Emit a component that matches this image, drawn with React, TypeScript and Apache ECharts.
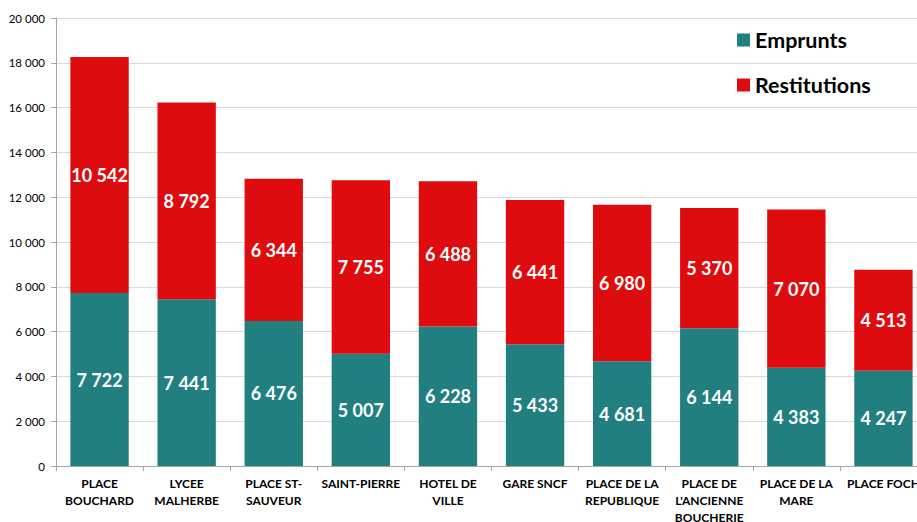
import React, { useEffect, useRef } from "react";
import * as echarts from "echarts";

const categories = [
  "PLACE\nBOUCHARD",
  "LYCEE\nMALHERBE",
  "PLACE ST-\nSAUVEUR",
  "SAINT-PIERRE",
  "HOTEL DE\nVILLE",
  "GARE SNCF",
  "PLACE DE LA\nREPUBLIQUE",
  "PLACE DE\nL'ANCIENNE\nBOUCHERIE",
  "PLACE DE LA\nMARE",
  "PLACE FOCH",
];
const emprunts = [7722, 7441, 6476, 5007, 6228, 5433, 4681, 6144, 4383, 4247];
const restitutions = [10542, 8792, 6344, 7755, 6488, 6441, 6980, 5370, 7070, 4513];

const fmt = (v: number) => String(v).replace(/\B(?=(\d{3})+(?!\d))/g, " ");
const FONT = "Lato, 'Open Sans', sans-serif";

export default function App() {
  const ref = useRef<HTMLDivElement>(null);
  useEffect(() => {
    if (!ref.current) return;
    document.body.style.margin = "0";
    document.body.style.overflow = "hidden";
    const chart = echarts.init(ref.current, undefined, { renderer: "svg" });
    const label = {
      show: true,
      position: "inside" as const,
      color: "#ffffff",
      fontFamily: FONT,
      fontWeight: "bold" as const,
      fontSize: 18,
      formatter: (p: any) => fmt(p.value),
    };
    chart.setOption({
      animation: false,
      backgroundColor: "#ffffff",
      textStyle: { fontFamily: FONT },
      grid: {
        left: 56,
        top: 18,
        height: 448,
        width: 871,
        containLabel: false,
        outerBoundsMode: "none",
      },
      legend: {
        orient: "vertical",
        left: 737,
        top: 29,
        padding: 0,
        itemWidth: 13,
        itemHeight: 13,
        itemGap: 23,
        icon: "rect",
        textStyle: { fontFamily: FONT, fontWeight: "bold", fontSize: 21.5, color: "#000", lineHeight: 22 },
        data: ["Emprunts", "Restitutions"],
      },
      xAxis: {
        type: "category",
        data: categories,
        axisLine: { lineStyle: { color: "#a6a6a6" } },
        axisTick: { show: true, length: 5, lineStyle: { color: "#a6a6a6" } },
        axisLabel: {
          interval: 0,
          margin: 9,
          fontFamily: FONT,
          fontWeight: "bold",
          fontSize: 12,
          lineHeight: 17,
          color: "#000",
          verticalAlign: "top",
        },
      },
      yAxis: {
        type: "value",
        min: 0,
        max: 20000,
        interval: 2000,
        axisLine: { show: true, lineStyle: { color: "#a6a6a6" } },
        axisTick: { show: true, length: 5, lineStyle: { color: "#a6a6a6" } },
        splitLine: { lineStyle: { color: "#d9d9d9" } },
        axisLabel: {
          margin: 11,
          fontFamily: FONT,
          fontSize: 11.5,
          color: "#000",
          formatter: (v: number) => fmt(v),
        },
      },
      series: [
        {
          name: "Emprunts",
          type: "bar",
          stack: "t",
          data: emprunts,
          barCategoryGap: "33%",
          itemStyle: { color: "#217f7f" },
          label,
        },
        {
          name: "Restitutions",
          type: "bar",
          stack: "t",
          data: restitutions,
          barCategoryGap: "33%",
          itemStyle: { color: "#de0c0e" },
          label,
        },
      ],
    });
    return () => chart.dispose();
  }, []);
  return (
    <div
      style={{ position: "fixed", left: 0, top: 0, width: 917, height: 522, overflow: "hidden" }}
    >
      <div ref={ref} style={{ width: 917, height: 522, overflow: "hidden" }} />
    </div>
  );
}
